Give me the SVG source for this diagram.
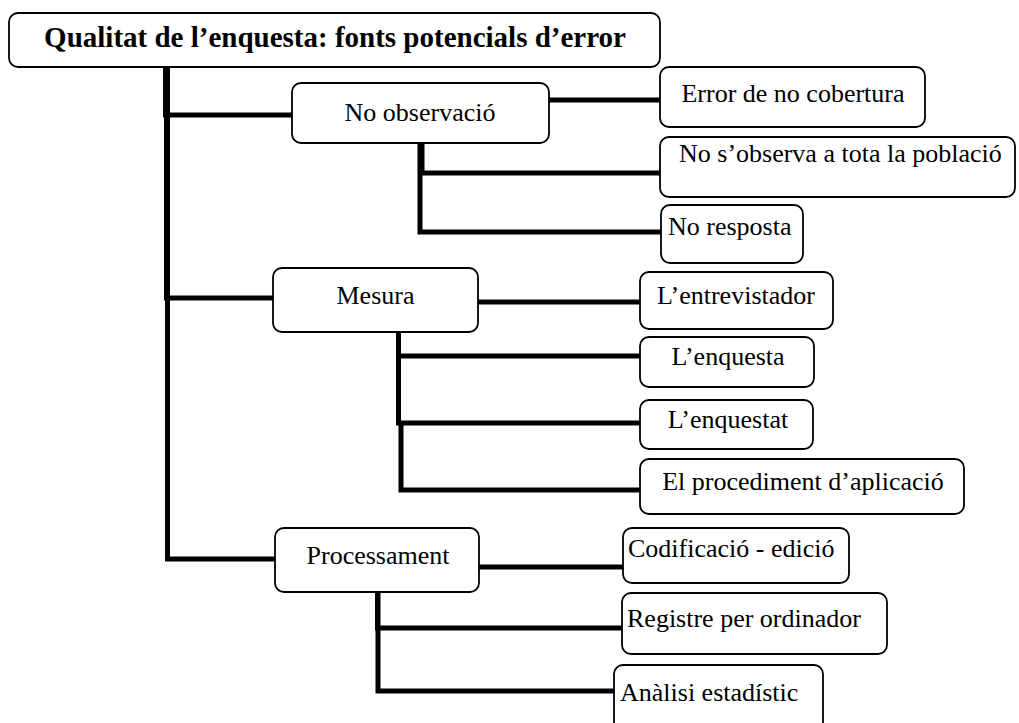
<svg xmlns="http://www.w3.org/2000/svg" width="1019" height="723" viewBox="0 0 1019 723">
<style>
.box{fill:#fff;stroke:#000;stroke-width:1.8}
.con{fill:none;stroke:#000;stroke-width:5;stroke-linejoin:miter}
text{font-family:"Liberation Serif","Times New Roman",serif;font-size:26px;fill:#000}
.title{font-size:29px;font-weight:bold}
.c{text-anchor:middle}
</style>
<rect width="1019" height="723" fill="#fff"/>
<g id="connectors">
<path class="con" d="M165.5,67 V115 H292"/>
<path class="con" d="M166.5,67 V298 H273"/>
<path class="con" d="M167.5,67 V559 H275"/>
<path class="con" d="M549,100 H660"/>
<path class="con" d="M422,143 V173 H660"/>
<path class="con" d="M420,143 V232 H661"/>
<path class="con" d="M478,302 H640"/>
<path class="con" d="M398.5,332 V356 H640"/>
<path class="con" d="M398.5,332 V423 H640"/>
<path class="con" d="M401,421 V490 H640"/>
<path class="con" d="M479,567 H623"/>
<path class="con" d="M377.5,592 V628 H622"/>
<path class="con" d="M378,592 V691 H614"/>
</g>
<g id="title"><rect class="box" x="9" y="13" width="651" height="54" rx="9"/><text class="title c" x="335" y="47">Qualitat de l’enquesta: fonts potencials d’error</text></g>
<g id="no-observacio"><rect class="box" x="292" y="83" width="257" height="60" rx="9"/><text class="c" x="420" y="121">No observació</text></g>
<g id="error-cobertura"><rect class="box" x="660" y="67" width="265" height="60" rx="9"/><text class="c" x="793" y="102">Error de no cobertura</text></g>
<g id="no-sobserva"><rect class="box" x="660" y="137" width="355" height="60" rx="9"/><text x="679" y="162">No s’observa a tota la població</text></g>
<g id="no-resposta"><rect class="box" x="661" y="205" width="142" height="58" rx="9"/><text x="668" y="235">No resposta</text></g>
<g id="mesura"><rect class="box" x="273" y="268" width="205" height="64" rx="9"/><text class="c" x="375.5" y="304">Mesura</text></g>
<g id="entrevistador"><rect class="box" x="640" y="272" width="193" height="57" rx="9"/><text class="c" x="736" y="304">L’entrevistador</text></g>
<g id="enquesta"><rect class="box" x="640" y="337" width="174" height="50" rx="9"/><text class="c" x="728" y="365">L’enquesta</text></g>
<g id="enquestat"><rect class="box" x="640" y="400" width="173" height="49" rx="9"/><text class="c" x="728" y="428">L’enquestat</text></g>
<g id="procediment"><rect class="box" x="640" y="459" width="324" height="55" rx="9"/><text class="c" x="803" y="490">El procediment d’aplicació</text></g>
<g id="processament"><rect class="box" x="275" y="528" width="204" height="64" rx="9"/><text class="c" x="378" y="564">Processament</text></g>
<g id="codificacio"><rect class="box" x="623" y="528" width="226" height="55" rx="9"/><text x="628" y="557">Codificació - edició</text></g>
<g id="registre"><rect class="box" x="622" y="593" width="265" height="61" rx="9"/><text x="627" y="627">Registre per ordinador</text></g>
<g id="analisi"><rect class="box" x="614" y="665" width="209" height="70" rx="9"/><text x="620" y="701">Anàlisi estadístic</text></g>
</svg>
